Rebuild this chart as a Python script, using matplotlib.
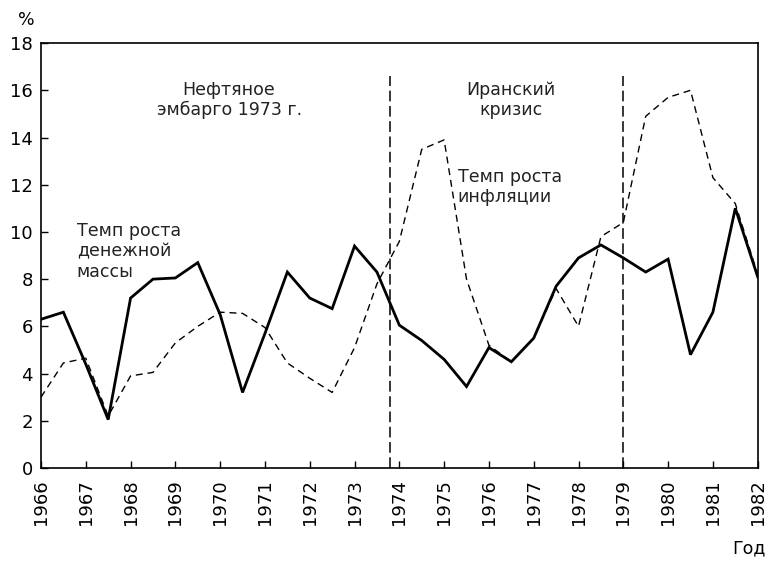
import numpy as np
import matplotlib.pyplot as plt

plt.rcParams['font.family'] = ['DejaVu Sans']

# -----------------------------------------------------------------------------
# Данные (полугодовые точки, 1966 - 1982)
# -----------------------------------------------------------------------------
years = np.arange(1966.0, 1982.01, 0.5)

# Темп роста денежной массы, %
money = [6.3, 6.6, 4.4, 2.05, 7.2, 8.0, 8.05, 8.7, 6.5, 3.2,
         5.7, 8.3, 7.2, 6.75, 9.4, 8.3, 6.05, 5.4, 4.6, 3.45,
         5.1, 4.5, 5.5, 7.7, 8.9, 9.45, 8.9, 8.3, 8.85, 4.8,
         6.6, 11.0, 8.1]

# Темп роста инфляции, %
inflation = [3.0, 4.45, 4.65, 2.2, 3.9, 4.05, 5.3, 6.0, 6.6, 6.55,
             5.95, 4.45, 3.8, 3.2, 5.1, 7.8, 9.6, 13.5, 13.9, 8.0,
             5.2, 4.5, 5.5, 7.6, 6.0, 9.8, 10.4, 14.9, 15.7, 16.0,
             12.3, 11.2, 8.2]

crisis_x = [1973.8, 1979.0]
crisis_top = 16.6

year_ticks = list(range(1966, 1983))

# -----------------------------------------------------------------------------
# График
# -----------------------------------------------------------------------------
fig = plt.figure(figsize=(7.69, 5.62), dpi=100)
ax = fig.add_axes([0.0533, 0.1673, 0.932, 0.756])

ax.plot(years, inflation, color='black', linewidth=1.0, linestyle=(0, (5, 3.5)))
ax.plot(years, money, color='black', linewidth=2.0, solid_joinstyle='miter')

for cx in crisis_x:
    ax.plot([cx, cx], [0, crisis_top], color='black', linewidth=1.1,
            linestyle=(0, (7, 3)))

ax.set_xlim(1966, 1982)
ax.set_ylim(0, 18)
ax.set_yticks(range(0, 19, 2))
ax.set_xticks(year_ticks)
ax.set_xticklabels([str(y) for y in year_ticks], rotation=90)
ax.tick_params(direction='in', length=5, width=1, labelsize=13, pad=8)
ax.tick_params(axis='y', pad=6)
for s in ax.spines.values():
    s.set_linewidth(1.2)

txt = dict(fontsize=12.5, color='#222222', linespacing=1.15)
ax.text(1970.2, 16.4, 'Нефтяное\nэмбарго 1973 г.', ha='center', va='top', **txt)
ax.text(1976.5, 16.4, 'Иранский\nкризис', ha='center', va='top', **txt)
ax.text(1975.3, 12.7, 'Темп роста\nинфляции', ha='left', va='top', **txt)
ax.text(1966.8, 10.4, 'Темп роста\nденежной\nмассы', ha='left', va='top', **txt)

fig.text(0.023, 0.965, '%', fontsize=12.5, ha='left', va='center')
fig.text(0.995, 0.025, 'Год', fontsize=12.5, ha='right', va='center')

fig.savefig('out.png', dpi=100)
